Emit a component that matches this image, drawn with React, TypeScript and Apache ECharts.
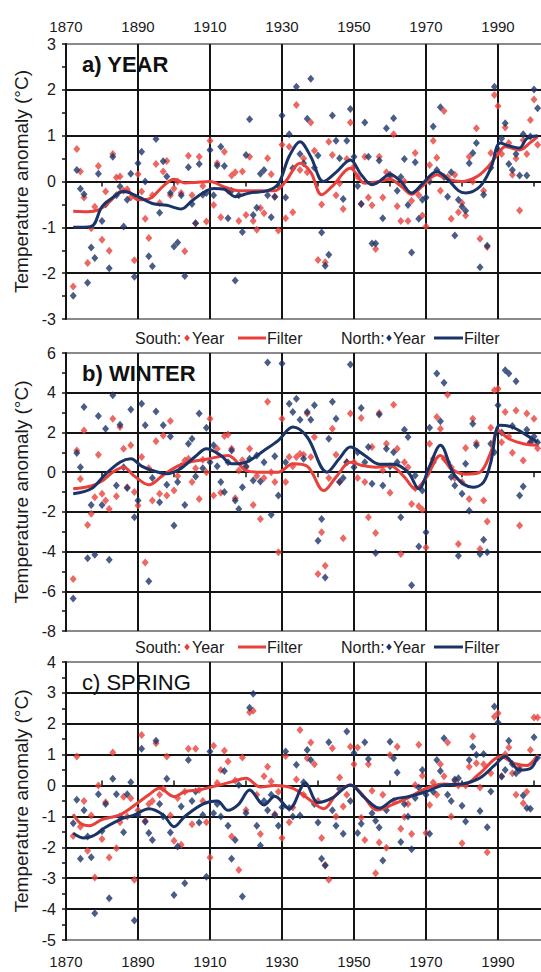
import React, { useEffect, useRef } from "react";
import * as echarts from "echarts";

// ---------- data (annual values 1872 .. 2001) ----------
const FIRST_YEAR = 1872;
const X_MIN = 1870;
const X_MAX = 2005;
const X_LABEL_STEP = 20;
const AXIS_NAME = "Temperature anomaly (°C)";

// a) YEAR
const yearSouth = [
  -2.29, 0.71, 0.22, -0.35, -1.78, -1.02, -0.55, 0.34,
  -1.27, -0.22, -1.51, 0.6, 0.09, 0.11, -0.2, -0.17, -0.35, -1.72,
  0.16, -0.22, -0.81, -1.23, -0.3, 0.38, -0.47, 0.22, 0.45, -0.3,
  -0.15, 0.0, -0.25, -1.52, 0.56, -0.3, -0.91, 0.54, -0.1, -0.87,
  0.89, -0.51, 0.4, -0.78, 0.65, -0.2, 0.13, 0.2, -0.86, 0.22,
  -0.73, 0.54, -0.86, -1.05, -0.58, -0.69, 0.51, 0.16, -0.33, -1.07,
  0.8, -0.8, 0.76, -0.67, 1.67, 0.25, 0.5, 0.2, 1.29, 0.67,
  -1.71, -0.5, -1.76, 0.87, 0.58, -0.3, -0.04, -0.6, 0.49, 1.29,
  0.33, 0.1, -0.49, 0.54, -0.35, -0.52, -1.47, 0.54, -0.35, 0.2,
  0.1, 1.03, -0.54, -0.86, 0.0, -0.86, -0.42, 0.62, -0.3, -0.74,
  -0.98, 0.36, 0.89, 0.52, -0.2, 1.54, 0.1, -0.81, 0.15, -0.67,
  -0.47, -0.74, 0.54, 0.0, 1.16, -1.25, -0.2, -1.43, 0.62, 1.89,
  1.65, 0.6, 1.18, 0.84, 0.15, 0.5, -0.63, 0.9, 0.6, 1.34,
  1.79, 0.8,
];
const yearNorth = [
  -2.49, 0.25, -0.16, -0.28, -2.21, -1.44, -1.67, 0.17,
  -0.86, -0.5, -1.89, 0.54, -0.3, -0.11, -0.98, -0.4, 0.17, -2.08,
  0.4, 0.65, 0.0, -1.63, -1.85, 0.93, -0.68, 0.44, 0.11, -0.25,
  -1.42, -1.33, -0.3, -2.06, 0.31, -0.49, -0.91, 0.38, -0.29, -0.25,
  0.69, -0.3, 0.35, 0.76, 0.34, -0.8, -0.2, -2.16, -0.3, -1.1,
  0.58, 1.36, -0.73, -0.57, 0.17, 0.25, -0.3, -0.78, -0.33, -0.1,
  1.44, -0.35, 1.03, 0.29, 2.07, 0.6, 0.4, 1.37, 2.24, 0.3,
  0.57, -1.11, -1.84, -1.6, 1.44, 0.89, 0.51, -0.38, 0.89, 1.58,
  0.54, -0.1, -0.49, 1.29, 0.54, -1.35, -1.35, 0.46, -0.8, 1.16,
  0.15, 1.38, -0.2, 0.1, 0.49, -0.51, -1.55, 0.42, -0.81, -0.4,
  -0.35, 0.0, 1.2, 0.25, 1.62, 0.1, -0.33, 0.2, -1.18, -0.4,
  -0.55, -0.64, 0.4, 0.62, 0.84, -1.87, -0.29, -1.4, 0.3, 2.07,
  0.7, 0.94, 1.27, 0.38, 0.25, 0.6, 0.13, 1.03, 0.13, 0.98,
  2.01, 1.6,
];
const yearSouthFilter = [
  [1872, -0.65], [1876, -0.66], [1879, -0.62], [1882, -0.45], [1885, -0.22], [1887, -0.2],
  [1890, -0.4], [1893, -0.38], [1897, -0.1], [1900, 0.05], [1903, -0.03], [1906, -0.02],
  [1910, 0.0], [1914, -0.12], [1918, -0.2], [1923, -0.2], [1928, -0.2], [1931, 0.0],
  [1935, 0.4], [1938, 0.2], [1941, -0.29], [1944, -0.1], [1949, 0.29], [1953, -0.04],
  [1957, 0.0], [1960, 0.05], [1963, -0.1], [1966, -0.28], [1969, -0.1], [1973, 0.15],
  [1976, 0.05], [1980, 0.0], [1984, 0.1], [1987, 0.3], [1990, 0.6], [1992, 0.76],
  [1996, 0.69], [1999, 0.85], [2001, 0.98],
];
const yearNorthFilter = [
  [1872, -1.0], [1877, -0.98], [1880, -0.55], [1883, -0.35], [1886, -0.22], [1890, -0.33],
  [1894, -0.48], [1898, -0.52], [1902, -0.6], [1905, -0.42], [1908, -0.25], [1911, -0.15],
  [1914, -0.17], [1917, -0.33], [1921, -0.25], [1926, -0.2], [1929, -0.05], [1932, 0.55],
  [1935, 0.87], [1938, 0.54], [1941.5, 0.0], [1945, 0.2], [1949, 0.47], [1952, 0.15],
  [1955, -0.07], [1957, 0.0], [1960, 0.16], [1963, 0.0], [1966, -0.25], [1969, -0.05],
  [1973, 0.22], [1976, 0.05], [1979, -0.2], [1981, -0.25], [1985, -0.11], [1988, 0.29],
  [1990.6, 0.84], [1993, 0.78], [1996, 0.73], [1998, 0.94], [2001, 1.0],
];

// b) WINTER
const winterSouth = [
  -5.38, 1.09, -0.34, 2.1, -2.66, -2.1, -1.26, 0.88,
  -1.09, -1.43, -1.85, 2.69, -1.21, 2.27, 1.18, -0.76, 1.35, -1.0,
  -1.68, 0.76, -4.55, 0.2, -1.43, 1.55, -1.09, 1.85, -1.18, 2.58,
  -0.93, -0.2, 0.3, 0.59, 0.67, -0.5, 0.2, -1.35, 0.62, 0.0,
  2.69, -1.18, 1.18, -1.04, 1.82, 1.89, 1.18, -1.31, 0.08, 0.6,
  0.25, 1.18, -1.65, -0.2, -2.36, -0.3, 3.54, 0.0, -0.5, -4.04,
  2.69, -0.5, 0.76, 0.3, 0.76, 0.93, 0.88, 2.95, 0.76, 1.77,
  -5.13, -3.03, -4.71, -0.3, 2.19, 0.88, -0.5, -3.33, 0.5, 2.95,
  0.5, -0.3, 2.73, -0.5, -2.27, 1.26, -3.06, 2.98, 0.1, 1.43,
  -1.04, 3.4, 1.18, -4.12, 0.5, 0.25, -1.6, -0.81, -1.72, -1.89,
  -3.79, 1.43, 0.67, 2.78, 2.19, 0.67, 3.9, 0.25, -0.3, -3.62,
  -0.5, 1.21, -1.35, 2.69, 1.47, -3.87, -1.43, -2.49, 2.24, 4.12,
  4.2, 1.5, 3.03, 1.8, 0.98, 3.11, -2.69, 0.59, 2.95, 1.5,
  2.69, 1.2,
];
const winterNorth = [
  -6.36, 0.96, 0.25, 3.28, -4.34, -1.65, -4.16, 2.83,
  -1.65, 2.19, -4.41, 3.87, -0.67, 2.39, 0.25, -0.8, 3.15, -2.27,
  -1.43, 3.45, 2.36, -5.5, -0.3, 3.06, -1.51, 2.36, -0.64, 1.8,
  -2.69, -0.5, 0.3, -1.65, 1.43, 1.68, -0.22, 2.95, 0.2, 2.24,
  0.5, 1.35, 0.3, -0.5, -1.0, 0.5, 1.09, -1.43, -1.85, -0.76,
  0.3, 0.67, -0.42, 0.84, -0.47, 0.5, 5.52, -2.15, 0.8, -1.18,
  5.47, 0.5, 3.45, 3.03, 3.7, 2.64, 0.67, 3.03, 2.64, 3.37,
  -3.45, -2.36, -5.3, 1.68, 3.54, 2.69, -0.5, -0.3, 0.5, 5.42,
  0.25, 1.0, 3.23, 0.5, 1.26, -0.59, -4.07, 2.9, -0.67, 1.18,
  0.3, 1.0, 0.5, -2.27, 2.14, 1.77, -5.69, -0.17, -3.74, -0.93,
  -3.03, 2.24, 0.5, 4.97, 2.56, 4.5, 0.5, -0.25, -0.67, -4.21,
  -1.09, 0.42, -1.94, 2.44, 1.35, -4.12, -3.4, -4.04, 1.43, 1.0,
  3.37, 2.0, 5.13, 4.97, 2.32, 4.58, -1.18, -0.72, 2.14, 1.5,
  1.8, 1.5,
];
const winterSouthFilter = [
  [1872, -0.84], [1877, -0.7], [1880, -0.45], [1883, 0.0], [1886, 0.25], [1889, -0.2],
  [1893, -0.64], [1897, -0.15], [1901, 0.3], [1904, 0.5], [1909, 0.65], [1915, 0.84],
  [1918, 0.42], [1920, 0.08], [1924, 0.0], [1929, 0.0], [1933, 0.42], [1937, 0.3],
  [1941.6, -0.93], [1945, -0.25], [1949, 0.5], [1952, 0.35], [1956, 0.25], [1960, 0.34],
  [1964, -0.25], [1967, -0.84], [1970, -0.3], [1974, 0.84], [1977, 0.17], [1981, -0.1],
  [1985, 0.0], [1988, 1.0], [1990, 2.1], [1993, 1.68], [1997, 1.43], [2001, 1.35],
];
const winterNorthFilter = [
  [1872, -1.09], [1877, -0.84], [1881, -0.1], [1885, 0.5], [1888, 0.67], [1891, 0.3],
  [1894, 0.08], [1898, -0.08], [1902, 0.2], [1906, 0.8], [1909, 1.18], [1913, 0.84],
  [1916, 0.42], [1920, 0.5], [1925, 1.09], [1929, 1.6], [1933, 2.27], [1937, 1.77],
  [1942.5, 0.0], [1946, 0.7], [1949, 1.26], [1953, 0.84], [1957, 0.4], [1961, 0.4],
  [1965, 0.0], [1968, -0.84], [1971, 0.3], [1974, 1.35], [1978, -0.17], [1983, -0.76],
  [1986, -0.5], [1988, 0.5], [1990.5, 2.36], [1994, 2.27], [1998, 1.85], [2001, 1.5],
];

// c) SPRING
const springSouth = [
  -1.63, 0.94, -1.33, -0.5, -2.11, -0.97, -2.98, 0.0,
  -1.73, -0.54, -2.33, 1.07, -2.03, -1.19, -0.36, -1.0, -0.41, -3.05,
  -0.8, 1.64, -1.14, -0.6, -0.5, 1.37, -0.3, -0.1, 0.94, -0.97,
  -1.79, -0.4, -1.92, -0.2, 1.19, -1.25, 1.19, -0.14, -0.5, -1.19,
  -2.33, 1.29, 0.08, 0.5, 1.13, 0.78, -1.65, 0.16, -2.73, 0.91,
  -0.79, 2.37, 2.42, -0.3, -1.57, 0.3, 0.61, 0.13, -0.93, -0.2,
  -1.7, 0.96, -1.19, -0.71, 0.2, 1.8, -0.3, 0.88, 1.39, 0.69,
  -0.5, -1.7, -2.57, -3.05, 1.21, -1.0, 0.26, -0.68, -0.3, 1.26,
  0.69, 1.23, -1.04, -1.76, 0.69, -0.17, -2.84, -1.84, -0.3, -2.01,
  0.99, -0.5, 1.26, -1.4, -1.02, -0.6, -1.57, 0.02, 1.32, 0.32,
  -1.54, -0.63, 0.1, -0.3, 0.69, 0.3, 1.39, -1.0, 0.15, 0.0,
  -1.87, 0.0, 0.61, 1.59, 0.72, -0.06, 0.69, -2.16, 0.4, 2.23,
  2.34, 0.3, 1.01, 1.23, 0.4, -0.3, 0.61, -0.57, -0.2, 1.15,
  2.2, 2.2,
];
const springNorth = [
  -1.22, -0.46, -2.37, -0.8, -1.65, -2.32, -4.13, -0.28,
  -1.47, -0.6, -3.65, 0.22, -0.28, -1.0, -1.51, -0.28, 0.11, -4.37,
  -0.95, 1.19, -1.17, -1.54, -1.76, 1.45, -0.6, -1.0, 0.22, -1.52,
  -3.54, -1.97, -0.68, -3.16, 0.83, -0.5, -0.19, -1.2, -0.95, -2.95,
  1.1, -0.9, -0.6, -1.0, 0.47, -1.3, -2.37, -1.76, 0.02, -3.59,
  -0.89, 2.52, 2.97, -1.3, -1.94, -0.5, -0.8, -0.3, -0.95, -1.3,
  -0.7, 1.1, -0.73, -1.0, 0.67, -0.97, 0.11, 1.15, 0.83, -0.6,
  -1.2, -2.37, -2.59, 1.4, -0.8, -1.3, -0.11, -1.56, 1.75, -0.5,
  1.05, -1.54, -1.24, 1.4, 0.86, -0.9, -1.14, -1.36, -2.43, -0.8,
  1.42, 0.88, 0.42, -1.83, -0.6, -1.0, -2.06, -0.4, -0.06, 0.5,
  -0.3, -1.56, -0.2, 0.83, 0.47, 1.53, -0.3, -0.5, 0.2, 0.24,
  -0.65, -1.16, 0.83, 1.26, 1.0, -0.82, 1.02, -1.35, -0.19, 2.56,
  2.04, 0.29, 0.5, 1.45, 0.7, 0.4, 0.5, -0.32, -0.73, -0.75,
  1.56, 0.9,
];
const springSouthFilter = [
  [1872, -0.93], [1874, -1.22], [1876.5, -1.3], [1880, -1.1], [1885, -0.95], [1889.5, -0.6],
  [1893, -0.3], [1896, -0.09], [1900, -0.36], [1903, -0.2], [1907, -0.14], [1912, 0.0],
  [1916, 0.12], [1920, 0.24], [1924, -0.05], [1928, 0.0], [1933, -0.09], [1937, -0.4],
  [1941.6, -0.75], [1945, -0.3], [1949, 0.02], [1952, -0.25], [1956.5, -0.79], [1961, -0.6],
  [1965, -0.4], [1970, -0.09], [1975, 0.05], [1980, 0.0], [1985, 0.4], [1990.8, 0.94],
  [1994.5, 0.72], [1998, 0.65], [2001, 0.99],
];
const springNorthFilter = [
  [1872, -1.54], [1875, -1.7], [1878, -1.6], [1881, -1.35], [1885, -1.1], [1889, -0.95],
  [1893, -0.75], [1897, -0.95], [1900, -1.33], [1903, -1.0], [1908, -0.6], [1912, -0.5],
  [1915, -0.8], [1918, -0.6], [1921, -0.14], [1925, -0.63], [1928, -0.35], [1932, -0.75],
  [1936.5, 0.08], [1940, -0.55], [1944, -0.4], [1949, 0.02], [1953, -0.4], [1957, -0.73],
  [1961, -0.45], [1965, -0.36], [1970, -0.2], [1975, 0.02], [1980, 0.05], [1985, 0.25],
  [1989, 0.65], [1992, 0.94], [1996, 0.5], [1999, 0.55], [2001, 0.95],
];

// ---------- styling ----------
const FONT = '"Liberation Sans", Arial, Helvetica, sans-serif';
const RED = "#e8413c";
const NAVY = "#1b3468";
const INK = "#1a1a1a";
const GRID_INK = "#141414";

const panels = [
  { title: "a) YEAR", weight: "bold", top: 44, height: 275, min: -3, max: 3, step: 1,
    south: yearSouth, north: yearNorth, southF: yearSouthFilter, northF: yearNorthFilter, labels: "top" },
  { title: "b) WINTER", weight: "bold", top: 353, height: 278, min: -8, max: 6, step: 2,
    south: winterSouth, north: winterNorth, southF: winterSouthFilter, northF: winterNorthFilter, labels: "" },
  { title: "c) SPRING", weight: "normal", top: 662, height: 278, min: -5, max: 4, step: 1,
    south: springSouth, north: springNorth, southF: springSouthFilter, northF: springNorthFilter, labels: "bottom" },
];

const LEGEND_Y = [338, 647];

function toPoints(vals: number[]) {
  return vals.map((v, i) => [FIRST_YEAR + i, v]);
}

function legendGraphics(y: number) {
  const txt = (x: number, text: string) => ({
    type: "text", x, y, silent: true,
    style: { text, font: `16px ${FONT}`, fill: INK, align: "left", verticalAlign: "middle" },
  });
  const diamond = (cx: number, color: string) => ({
    type: "polygon", silent: true,
    shape: { points: [[cx, y - 3.5], [cx + 2.8, y], [cx, y + 3.5], [cx - 2.8, y]] },
    style: { fill: color },
  });
  const seg = (x1: number, x2: number, color: string) => ({
    type: "line", silent: true,
    shape: { x1, y1: y, x2, y2: y },
    style: { stroke: color, lineWidth: 3 },
  });
  return [
    txt(135, "South:"), diamond(187, RED), txt(192, "Year"), seg(238, 266, RED), txt(267, "Filter"),
    txt(341, "North:"), diamond(389, NAVY), txt(393, "Year"), seg(434, 463, NAVY), txt(464, "Filter"),
  ];
}

export default function App() {
  const ref = useRef<HTMLDivElement>(null);

  useEffect(() => {
    if (!ref.current) return;
    const chart = echarts.init(ref.current, null, { renderer: "svg" });

    const grid = panels.map((p) => ({
      left: 66, right: -11, top: p.top, height: p.height,
      show: true, borderColor: "#8a8a8a", borderWidth: 2,
      containLabel: false, outerBoundsMode: "none",
    }));

    const xAxis: any[] = [];
    const yAxis: any[] = [];
    const series: any[] = [];
    const graphic: any[] = [];

    panels.forEach((p, i) => {
      const labelAxisIndex = xAxis.length;
      xAxis.push({
        type: "value", gridIndex: i, min: X_MIN, max: X_MAX, interval: X_LABEL_STEP,
        position: p.labels === "bottom" ? "bottom" : "top",
        axisLine: { show: false, onZero: false },
        axisTick: { show: false },
        axisLabel: {
          show: !!p.labels, fontSize: 15, color: INK, fontFamily: FONT,
          margin: p.labels === "top" ? 10 : 14,
          formatter: (v: number) => (v % 20 === 10 ? String(v) : ""),
        },
        splitLine: { show: true, showMinLine: false, showMaxLine: false, lineStyle: { color: GRID_INK, width: 2 } },
      });
      xAxis.push({
        type: "value", gridIndex: i, min: X_MIN, max: X_MAX, interval: 10,
        position: p.labels === "bottom" ? "top" : "bottom",
        axisLine: { show: true, onZero: true, lineStyle: { color: GRID_INK, width: 2 } },
        axisTick: { show: true, length: 5, lineStyle: { color: GRID_INK, width: 1.5 } },
        axisLabel: { show: false },
        splitLine: { show: false },
      });
      yAxis.push({
        type: "value", gridIndex: i, min: p.min, max: p.max, interval: p.step, position: "left",
        axisLine: { show: true, onZero: false, lineStyle: { color: GRID_INK, width: 2 } },
        axisTick: { show: true, length: 4, lineStyle: { color: GRID_INK, width: 1.5 } },
        minorTick: { show: true, splitNumber: 2, length: 4, lineStyle: { color: GRID_INK, width: 1.5 } },
        axisLabel: { fontSize: 16, color: INK, fontFamily: FONT, margin: 10 },
        splitLine: { show: true, showMinLine: false, showMaxLine: false, lineStyle: { color: GRID_INK, width: 2 } },
        name: AXIS_NAME, nameLocation: "middle", nameGap: 30,
        nameTextStyle: { fontSize: 19, color: INK, fontFamily: FONT },
      });

      const common = { xAxisIndex: labelAxisIndex, yAxisIndex: i, silent: true, clip: true };
      series.push({
        ...common, type: "scatter", name: "South Year", data: toPoints(p.south),
        symbol: "diamond", symbolSize: [7, 8], itemStyle: { color: RED }, z: 3,
      });
      series.push({
        ...common, type: "scatter", name: "North Year", data: toPoints(p.north),
        symbol: "diamond", symbolSize: [7, 8], itemStyle: { color: NAVY }, z: 3,
      });
      series.push({
        ...common, type: "line", name: "South Filter", data: p.southF, smooth: 0.35,
        showSymbol: false, lineStyle: { color: RED, width: 3 }, z: 4,
      });
      series.push({
        ...common, type: "line", name: "North Filter", data: p.northF, smooth: 0.35,
        showSymbol: false, lineStyle: { color: NAVY, width: 3 }, z: 5,
      });

      graphic.push({
        type: "text", x: 82, y: p.top + 20, silent: true, z: 10,
        style: { text: p.title, font: `${p.weight} 22px ${FONT}`, fill: "#111", align: "left", verticalAlign: "middle" },
      });
    });

    LEGEND_Y.forEach((y) => graphic.push(...legendGraphics(y)));

    chart.setOption({
      animation: false,
      backgroundColor: "#ffffff",
      grid, xAxis, yAxis, series, graphic,
    });

    return () => chart.dispose();
  }, []);

  return (
    <div
      ref={ref}
      style={{ position: "fixed", left: 0, top: 0, width: 541, height: 972, background: "#fff" }}
    />
  );
}
